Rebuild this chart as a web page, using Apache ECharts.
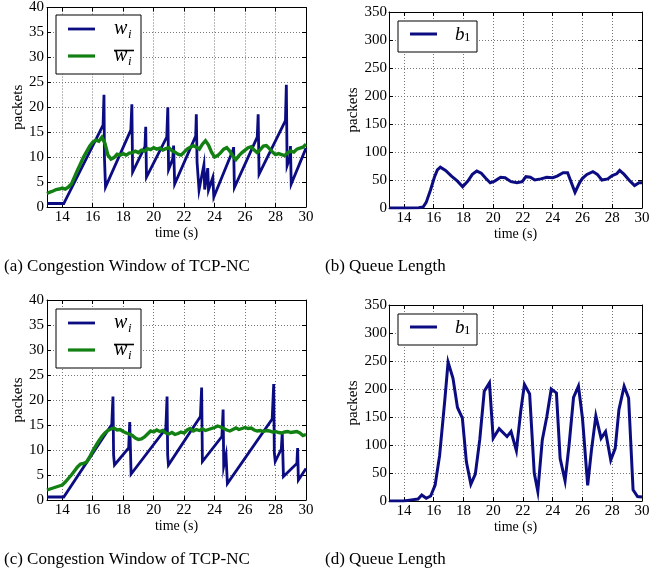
<!DOCTYPE html>
<html><head><meta charset="utf-8">
<script src="https://cdn.jsdelivr.net/npm/echarts@6/dist/echarts.min.js"></script>
<style>html,body{margin:0;padding:0;background:#fff}#c{width:670px;height:573px}</style>
</head><body><div id="c"></div>
<script>
// ---- data ----
const xTicks = [14,16,18,20,22,24,26,28,30];
// (a) TCP-NC congestion window
const aW_t = [13,14.1,16.68,16.74,16.77,16.84,18.5,18.57,18.62,19.43,19.48,19.53,20.86,20.93,20.98,21.25,21.31,21.38,22.76,22.8,22.85,22.98,23.3,23.35,23.55,23.6,23.88,23.95,25.22,25.25,25.3,26.8,26.86,26.92,28.65,28.71,28.76,28.95,28.98,29.03,30];
const aW_v = [0.7,0.7,16.4,22.5,10,4.0,15.4,20.6,7.0,12.1,16.1,6.0,14.0,20.0,7.5,9.6,12.3,4.6,14.2,18.6,9,3.4,8.5,3.5,7.8,3.4,5.9,2.0,11.5,12,3.9,14.0,18.6,6.6,17.3,24.5,8.3,10,12.2,4.6,11.8];
const aAvg_t = [13.0,13.2,13.4,13.6,13.8,14.0,14.2,14.4,14.6,14.8,15.0,15.2,15.4,15.6,15.8,16.0,16.2,16.4,16.6,16.8,17.0,17.2,17.4,17.6,17.8,18.0,18.2,18.4,18.6,18.8,19.0,19.2,19.4,19.6,19.8,20.0,20.2,20.4,20.6,20.8,21.0,21.2,21.4,21.6,21.8,22.0,22.2,22.4,22.6,22.8,23.0,23.2,23.4,23.6,23.8,24.0,24.2,24.4,24.6,24.8,25.0,25.2,25.4,25.6,25.8,26.0,26.2,26.4,26.6,26.8,27.0,27.2,27.4,27.6,27.8,28.0,28.2,28.4,28.6,28.8,29.0,29.2,29.4,29.6,29.8,30.0];
const aAvg_v = [2.7,3.0,3.2,3.5,3.6,3.8,3.6,4.0,4.6,6.0,7.4,8.7,10.0,11.1,12.2,13.0,13.4,13.2,14.0,12.8,10.4,9.6,9.9,10.6,10.4,10.7,10.4,10.8,10.9,11.2,10.9,11.4,11.2,11.7,11.5,11.9,11.6,11.8,11.4,11.7,11.9,11.3,11.0,10.6,10.4,11.0,11.6,12.0,12.3,12.0,11.6,12.6,13.3,12.4,11.0,10.0,10.3,10.9,11.6,11.9,11.2,10.2,9.5,10.3,10.9,11.4,11.9,12.1,11.4,10.9,11.5,12.2,12.3,11.7,11.0,10.5,10.7,10.5,10.3,10.9,11.2,11.0,11.6,11.8,12.0,12.6];
// (b) queue length
const bQ_t = [13,14,15,15.3,15.5,15.8,16.05,16.25,16.45,16.8,17.2,17.6,17.95,18.3,18.6,18.9,19.2,19.5,19.8,20.1,20.5,20.8,21.2,21.6,21.95,22.2,22.5,22.8,23.2,23.6,24.0,24.3,24.7,25.0,25.5,25.8,26.0,26.3,26.7,27.0,27.3,27.7,28.0,28.3,28.5,28.8,29.2,29.5,29.8,30];
const bQ_v = [0,0,0.5,2,10,33,55,68,73,67,57,48,38,48,60,66,62,53,45,48,55,54,47,45,47,56,55,50,52,55,54,57,63,63,28,45,53,60,65,60,50,52,58,61,67,60,48,40,45,45];
// (c) TCP-NC congestion window
const cW_t = [13,14.1,17.25,17.33,17.37,17.43,18.36,18.43,18.52,20.8,20.88,20.92,20.97,23.07,23.15,23.2,24.48,24.56,24.6,24.75,24.84,27.78,27.88,27.92,27.98,28.38,28.44,28.52,29.4,29.45,29.5,30];
const cW_v = [0.6,0.6,15.1,20.7,9,7.0,10.4,15.6,5.2,14.3,20.7,9,7.0,16.7,22.5,7.7,12.7,18.1,6.8,9.0,3.3,16.2,23.2,9.5,7.7,10.2,13.5,4.7,7.3,10.4,4.0,6.3];
const cAvg_t = aAvg_t;
const cAvg_v = [2.0,2.2,2.4,2.6,2.8,3.0,3.6,4.3,5.0,5.8,6.6,7.2,7.3,7.6,8.6,9.8,10.8,11.8,12.7,13.4,13.9,14.2,14.4,14.0,14.1,13.7,13.4,13.2,12.9,12.4,12.1,12.2,12.6,13.2,13.8,13.6,14.0,13.7,13.9,13.4,13.2,13.5,13.1,13.3,13.6,13.4,14.0,14.3,13.8,14.1,13.9,14.2,13.9,14.1,14.3,14.5,14.8,14.6,14.3,14.0,13.8,14.1,14.4,14.1,14.3,14.5,14.3,14.4,14.0,13.8,13.9,13.7,13.9,13.8,13.6,13.7,13.5,13.4,13.6,13.7,13.5,13.6,13.7,13.4,12.9,13.1];
// (d) queue length
const dQ_t = [13,14,14.5,14.95,15.2,15.5,15.8,16.1,16.4,16.75,16.97,17.3,17.6,17.93,18.2,18.5,18.8,19.1,19.4,19.75,20.0,20.4,20.93,21.2,21.56,21.85,22.1,22.45,22.76,23.0,23.3,23.6,23.9,24.25,24.5,24.83,25.1,25.4,25.73,26.0,26.35,26.6,26.9,27.25,27.55,27.9,28.2,28.45,28.8,29.1,29.4,29.7,30];
const dQ_v = [0,0,2,3.6,10.7,4.8,9,28.6,81,180,248,219,167,148,70,30,48,110,196,211,112,129,115,124,90,160,208,191,50,17,109,150,200,193,76,36,100,185,205,148,28,90,152,112,124,73,94,163,205,184,20,8,7];
const captions = ['(a) Congestion Window of TCP-NC','(b) Queue Length','(c) Congestion Window of TCP-NC','(d) Queue Length'];

// ---- layout ----
const FONT = 'Liberation Serif';
const BLUE = '#0c0c82', GREEN = '#128012';
const grids = [
  {left:47, top:6, width:259, height:201},
  {left:389, top:12, width:253, height:196},
  {left:47, top:300, width:259, height:200},
  {left:389, top:305, width:253, height:196}
];
const yCfg = [
  {max:40, interval:5, gap:21, margin:3},
  {max:350, interval:50, gap:27, margin:2},
  {max:40, interval:5, gap:21, margin:3},
  {max:350, interval:50, gap:27, margin:2}
];
const zip = (t, v) => t.map((x, i) => [x, v[i]]);

const xAxis = [], yAxis = [];
grids.forEach((g, i) => {
  xAxis.push({type:'value', gridIndex:i, min:13, max:30, position:'bottom',
    name:'time (s)', nameLocation:'middle', nameGap:15,
    nameTextStyle:{fontFamily:FONT, fontSize:14, color:'#000'},
    axisLine:{onZero:false, lineStyle:{color:'#000', width:1}},
    axisTick:{inside:true, length:4, lineStyle:{color:'#000'}, customValues:xTicks},
    axisLabel:{fontFamily:FONT, fontSize:15, color:'#000', margin:3, customValues:xTicks},
    splitLine:{show:true, lineStyle:{color:'#777', type:[1,2], width:1}}});
  yAxis.push({type:'value', gridIndex:i, min:0, max:yCfg[i].max, interval:yCfg[i].interval, position:'left',
    name:'packets', nameLocation:'middle', nameGap:yCfg[i].gap,
    nameTextStyle:{fontFamily:FONT, fontSize:15, color:'#000'},
    axisLine:{show:true, onZero:false, lineStyle:{color:'#000', width:1}},
    axisTick:{show:true, inside:true, length:4, lineStyle:{color:'#000'}},
    axisLabel:{fontFamily:FONT, fontSize:15, color:'#000', margin:yCfg[i].margin},
    splitLine:{show:true, lineStyle:{color:'#777', type:[1,2], width:1}}});
});
grids.forEach((g, i) => {
  xAxis.push({type:'value', gridIndex:i, min:13, max:30, position:'top',
    axisLine:{onZero:false, lineStyle:{color:'#000', width:1}},
    axisTick:{inside:true, length:4, lineStyle:{color:'#000'}, customValues:xTicks},
    axisLabel:{show:false}, splitLine:{show:false}});
  yAxis.push({type:'value', gridIndex:i, min:0, max:yCfg[i].max, interval:yCfg[i].interval, position:'right',
    axisLine:{show:true, onZero:false, lineStyle:{color:'#000', width:1}},
    axisTick:{show:true, inside:true, length:4, lineStyle:{color:'#000'}},
    axisLabel:{show:false}, splitLine:{show:false}});
});

const line = (data, idx, color, width, z) => ({type:'line', xAxisIndex:idx, yAxisIndex:idx, data,
  showSymbol:false, symbol:'none', animation:false, z,
  lineStyle:{color, width, join:'miter'}});

const series = [
  line(zip(aW_t, aW_v), 0, BLUE, 2.8, 2),
  line(zip(aAvg_t, aAvg_v), 0, GREEN, 3.4, 3),
  line(zip(bQ_t, bQ_v), 1, BLUE, 3, 2),
  line(zip(cW_t, cW_v), 2, BLUE, 2.8, 2),
  line(zip(cAvg_t, cAvg_v), 2, GREEN, 3.4, 3),
  line(zip(dQ_t, dQ_v), 3, BLUE, 3, 2)
];

// legends (drawn as graphic, positioned relative to each grid)
const graphic = [];
function legendW(g) {
  const L = g.left, T = g.top;
  graphic.push({type:'rect', shape:{x:L+9, y:T+9, width:85, height:59}, style:{fill:'#fff', stroke:'#000', lineWidth:1}, z:100});
  graphic.push({type:'line', shape:{x1:L+21, y1:T+23, x2:L+48, y2:T+23}, style:{stroke:BLUE, lineWidth:2.8}, z:101});
  graphic.push({type:'line', shape:{x1:L+21, y1:T+50, x2:L+48, y2:T+50}, style:{stroke:GREEN, lineWidth:3.2}, z:101});
  graphic.push({type:'text', x:L+67, y:T+23, style:{text:'w', font:'italic 20px "Liberation Serif"', fill:'#000', verticalAlign:'middle'}, z:101});
  graphic.push({type:'text', x:L+81, y:T+29, style:{text:'i', font:'italic 13px "Liberation Serif"', fill:'#000', verticalAlign:'middle'}, z:101});
  graphic.push({type:'text', x:L+67, y:T+50, style:{text:'w', font:'italic 20px "Liberation Serif"', fill:'#000', verticalAlign:'middle'}, z:101});
  graphic.push({type:'text', x:L+81, y:T+56, style:{text:'i', font:'italic 13px "Liberation Serif"', fill:'#000', verticalAlign:'middle'}, z:101});
  graphic.push({type:'line', shape:{x1:L+67, y1:T+44.5, x2:L+87, y2:T+44.5}, style:{stroke:'#000', lineWidth:1.6}, z:101});
}
function legendB(g) {
  const L = g.left, T = g.top;
  graphic.push({type:'rect', shape:{x:L+9, y:T+9, width:79, height:31}, style:{fill:'#fff', stroke:'#000', lineWidth:1}, z:100});
  graphic.push({type:'line', shape:{x1:L+21, y1:T+22, x2:L+48, y2:T+22}, style:{stroke:BLUE, lineWidth:3}, z:101});
  graphic.push({type:'text', x:L+66, y:T+23, style:{text:'b', font:'italic 19px "Liberation Serif"', fill:'#000', verticalAlign:'middle'}, z:101});
  graphic.push({type:'text', x:L+75, y:T+26, style:{text:'1', font:'13px "Liberation Serif"', fill:'#000', verticalAlign:'middle'}, z:101});
}
legendW(grids[0]); legendB(grids[1]); legendW(grids[2]); legendB(grids[3]);

const capPos = [[4,267],[325,267],[4,560],[325,560]];
captions.forEach((t, i) => {
  graphic.push({type:'text', x:capPos[i][0], y:capPos[i][1], style:{text:t, font:'17px "Liberation Serif"', fill:'#000', verticalAlign:'middle'}});
});

const chart = echarts.init(document.getElementById('c'), null, {renderer:'canvas'});
chart.setOption({animation:false, backgroundColor:'#fff', grid:grids, xAxis, yAxis, series, graphic});
</script></body></html>
